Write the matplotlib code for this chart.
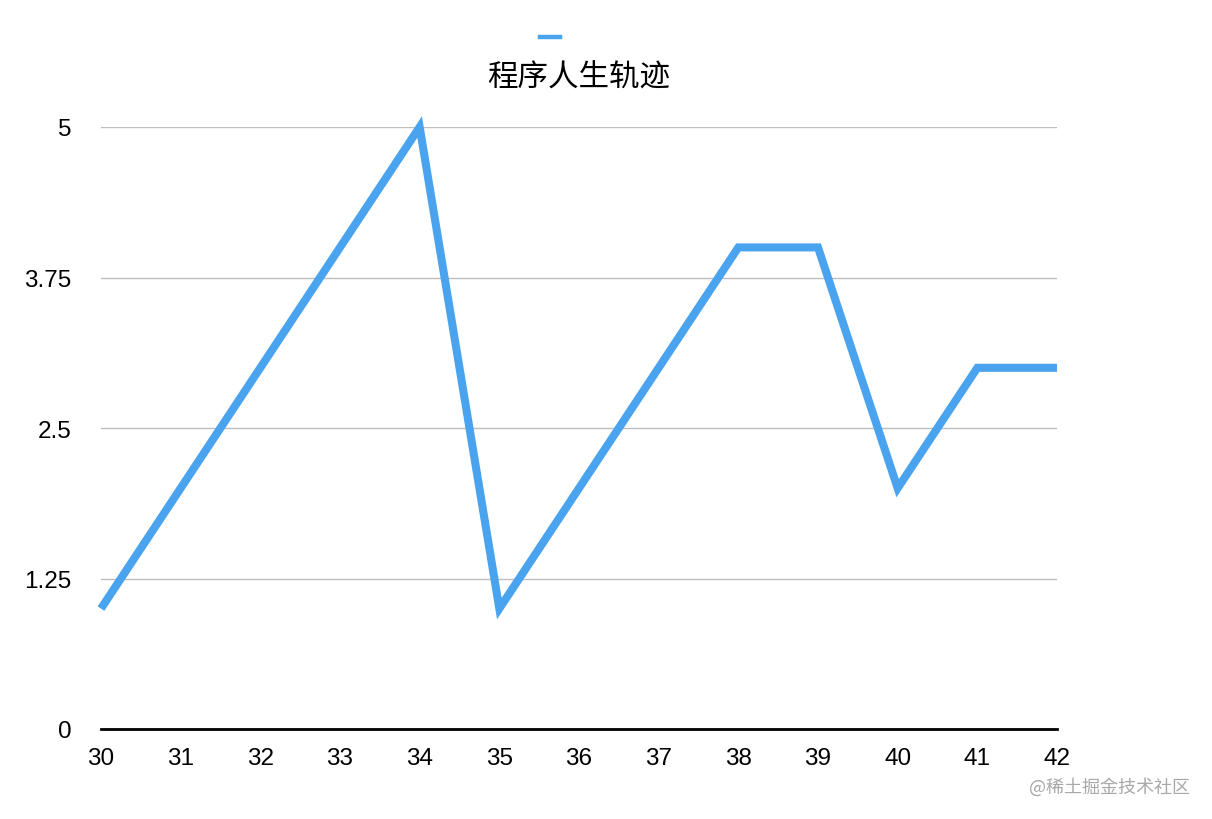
import matplotlib
matplotlib.use("Agg")
import matplotlib.pyplot as plt
from matplotlib.lines import Line2D

ages = [30, 31, 32, 33, 34, 35, 36, 37, 38, 39, 40, 41, 42]
values = [1, 2, 3, 4, 5, 1, 2, 3, 4, 4, 2, 3, 3]
yticks = [0, 1.25, 2.5, 3.75, 5]
ytick_labels = ["0", "1.25", "2.5", "3.75", "5"]
title = "程序人生轨迹"
watermark = "@稀土掘金技术社区"

color = "#4AA3EE"
fam = ["Liberation Sans", "Noto Sans CJK SC", "DejaVu Sans"]
plt.rcParams["font.family"] = fam

fig = plt.figure(figsize=(12.12, 8.2), dpi=100)
ax = fig.add_axes([101/1212, 1-730/820, (1057-101)/1212, (730-128)/820])

ax.plot(ages, values, color=color, linewidth=5.8, solid_joinstyle="miter",
        solid_capstyle="butt", clip_on=False, zorder=3)
ax.set_xlim(ages[0], ages[-1])
ax.set_ylim(0, 5)
ax.set_xticks(ages)
ax.set_xticklabels([str(a) for a in ages])
ax.set_yticks(yticks)
ax.set_yticklabels(ytick_labels)
ax.tick_params(axis="both", length=0, labelsize=17.5, colors="black")
ax.tick_params(axis="y", pad=21.5)
ax.tick_params(axis="x", pad=13)
for s in ["top", "right", "left"]:
    ax.spines[s].set_visible(False)
ax.spines["bottom"].set_linewidth(2.0)
ax.spines["bottom"].set_color("black")
ax.spines["bottom"].set_zorder(4)
ax.yaxis.grid(True, color="#BDBDBD", linewidth=1.0)
ax.set_axisbelow(True)

fig.text(579/1212, 1-78/820, title, ha="center", va="center", fontsize=22,
         family=["Noto Sans CJK SC", "DejaVu Sans"])
fig.legend([Line2D([], [], color=color, linewidth=3.2)], [""], loc="center",
           bbox_to_anchor=(550/1212, 1-39/820), frameon=False, handlelength=1.45,
           handletextpad=0.0, borderpad=0)
fig.text(1190/1212, 1-787/820, watermark, ha="right", va="center", fontsize=13,
         color="#A8A8A8", family=["Noto Sans CJK SC", "DejaVu Sans"])

fig.savefig("out.png", dpi=100)
